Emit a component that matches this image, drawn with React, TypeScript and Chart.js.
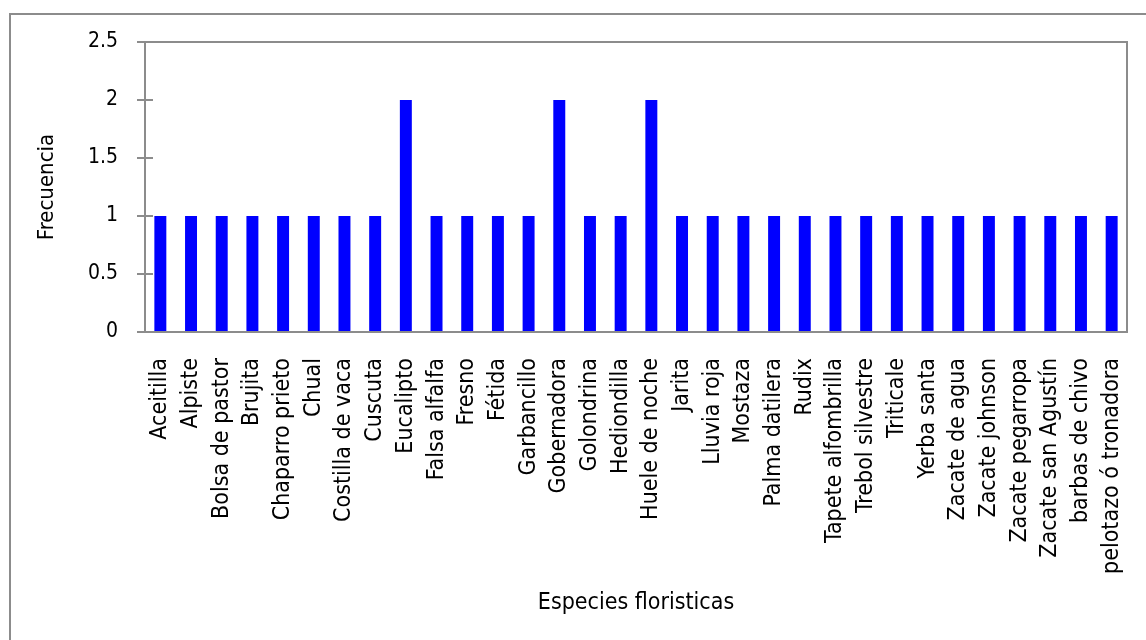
import React, { useEffect, useRef } from "react";
import { Chart, registerables } from "chart.js";

Chart.register(...registerables);

const categories = [
  "Aceitilla",
  "Alpiste",
  "Bolsa de pastor",
  "Brujita",
  "Chaparro prieto",
  "Chual",
  "Costilla de vaca",
  "Cuscuta",
  "Eucalipto",
  "Falsa alfalfa",
  "Fresno",
  "Fétida",
  "Garbancillo",
  "Gobernadora",
  "Golondrina",
  "Hediondilla",
  "Huele de noche",
  "Jarita",
  "Lluvia roja",
  "Mostaza",
  "Palma datilera",
  "Rudix",
  "Tapete alfombrilla",
  "Trebol silvestre",
  "Triticale",
  "Yerba santa",
  "Zacate de agua",
  "Zacate johnson",
  "Zacate pegarropa",
  "Zacate san Agustín",
  "barbas de chivo",
  "pelotazo ó tronadora",
];

const frequencies = [
  1, 1, 1, 1, 1, 1, 1, 1, 2, 1, 1, 1, 1, 2, 1, 1, 2, 1, 1, 1, 1, 1, 1, 1, 1, 1,
  1, 1, 1, 1, 1, 1,
];

const yTickValues = [0, 0.5, 1, 1.5, 2, 2.5];
const xTitle = "Especies floristicas";
const yTitle = "Frecuencia";

const FONT =
  "'Liberation Sans Narrow', 'Arial Narrow', 'DejaVu Sans Condensed', 'Liberation Sans', sans-serif";
const GRAY = "#8c8c8c";

export default function App() {
  const ref = useRef<HTMLCanvasElement>(null);

  useEffect(() => {
    if (!ref.current) return;
    const plotBox = {
      id: "plotBox",
      afterDraw(chart: any) {
        const { ctx, chartArea: a } = chart;
        ctx.save();
        ctx.strokeStyle = GRAY;
        ctx.lineWidth = 2;
        ctx.strokeRect(a.left, a.top, a.right - a.left, a.bottom - a.top);
        const y = chart.scales.y;
        y.ticks.forEach((_t: any, i: number) => {
          const py = y.getPixelForTick(i);
          ctx.beginPath();
          ctx.moveTo(a.left, py);
          ctx.lineTo(a.left + 8, py);
          ctx.stroke();
        });
        ctx.restore();
      },
    };

    const chart = new Chart(ref.current, {
      type: "bar",
      data: {
        labels: categories,
        datasets: [
          {
            data: frequencies,
            backgroundColor: "#0000ff",
            borderWidth: 0,
            barPercentage: 0.39,
            categoryPercentage: 1,
          },
        ],
      },
      options: {
        responsive: false,
        animation: false,
        layout: { padding: { left: 0, top: 42, right: 19, bottom: 0 } },
        plugins: {
          legend: { display: false },
          tooltip: { enabled: false },
        },
        scales: {
          x: {
            grid: { display: false, drawTicks: false },
            border: { display: false },
            ticks: {
              autoSkip: false,
              maxRotation: 90,
              minRotation: 90,
              padding: 26,
              color: "#000",
              font: { family: FONT, size: 23 },
            },
            title: {
              display: true,
              text: xTitle,
              color: "#000",
              font: { family: FONT, size: 23 },
              padding: { top: 0, bottom: 23 },
            },
            afterFit: (s: any) => {
              s.height = 308;
              s.paddingLeft = 0;
              s.paddingRight = 0;
            },
          },
          y: {
            min: 0,
            max: 2.5,
            grid: {
              drawOnChartArea: false,
              drawTicks: true,
              tickLength: 8,
              color: GRAY,
              lineWidth: 2,
            },
            border: { display: false },
            afterBuildTicks: (s: any) => {
              s.ticks = yTickValues.map((v) => ({ value: v }));
            },
            ticks: {
              padding: 19,
              color: "#000",
              font: { family: FONT, size: 21 },
              callback: (v: any) => String(v),
            },
            title: {
              display: true,
              text: yTitle,
              color: "#000",
              font: { family: FONT, size: 22 },
              padding: { top: 34, bottom: 0 },
            },
            afterFit: (s: any) => {
              s.width = 145;
            },
          },
        },
      },
      plugins: [plotBox],
    });
    return () => chart.destroy();
  }, []);

  return (
    <div
      style={{
        position: "absolute",
        left: 0,
        top: 0,
        width: 1146,
        height: 640,
        overflow: "hidden",
        background: "#fff",
      }}
    >
      <div
        style={{
          position: "absolute",
          left: 9,
          top: 13,
          width: 1200,
          height: 700,
          border: `2px solid ${GRAY}`,
        }}
      />
      <canvas
        ref={ref}
        width={1146}
        height={640}
        style={{ position: "absolute", left: 0, top: 0, width: 1146, height: 640 }}
      />
    </div>
  );
}
